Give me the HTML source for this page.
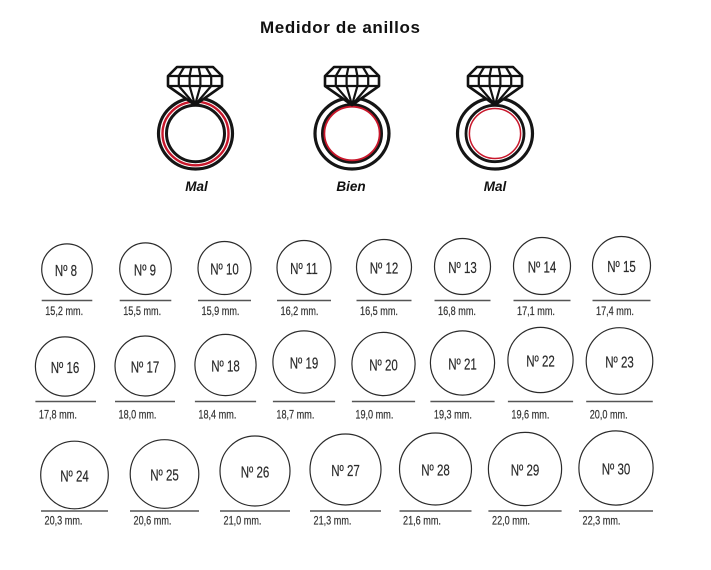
<!DOCTYPE html>
<html>
<head>
<meta charset="utf-8">
<style>
html,body{margin:0;padding:0;background:#fff;}
svg{display:block;}
.t{font-family:"Liberation Sans",sans-serif;}
</style>
</head>
<body>
<svg width="711" height="570" viewBox="0 0 711 570" xmlns="http://www.w3.org/2000/svg">
<rect width="711" height="570" fill="#fff"/>

<text class="t" x="340" y="33" font-size="17" font-weight="bold" text-anchor="middle" fill="#111" textLength="160" lengthAdjust="spacing">Medidor de anillos</text>

<defs>
  <g id="dia">
    <path d="M-18,67 L18,67 L27,76 L27,86 L0,105 L-27,86 L-27,76 Z" fill="#fff" stroke="#111" stroke-width="2.6" stroke-linejoin="round"/>
    <path d="M-27,76 L27,76 M-27,86 L27,86 M-10.8,67 L-16.2,76 L-16.2,86 M-3.6,67 L-5.4,76 L-5.4,86 M3.6,67 L5.4,76 L5.4,86 M10.8,67 L16.2,76 L16.2,86 M-16.2,86 L0,105 M-5.4,86 L0,105 M5.4,86 L0,105 M16.2,86 L0,105" fill="none" stroke="#111" stroke-width="2.2" stroke-linejoin="round"/>
  </g>
</defs>

<!-- Left ring (Mal) -->
<g>
  <ellipse cx="195.5" cy="133.5" rx="37" ry="35.5" fill="none" stroke="#151515" stroke-width="3.2"/>
  <ellipse cx="195.5" cy="133.5" rx="33" ry="31.8" fill="none" stroke="#c8172b" stroke-width="2.4"/>
  <ellipse cx="195.5" cy="133.5" rx="29" ry="28.2" fill="none" stroke="#151515" stroke-width="3"/>
  <use href="#dia" transform="translate(195,0)"/>
</g>
<!-- Middle ring (Bien) -->
<g>
  <ellipse cx="352" cy="133.5" rx="37" ry="35.5" fill="none" stroke="#151515" stroke-width="3.2"/>
  <ellipse cx="352" cy="133.5" rx="29.5" ry="28.7" fill="none" stroke="#151515" stroke-width="3"/>
  <ellipse cx="352" cy="133.5" rx="27.6" ry="26.8" fill="none" stroke="#c8172b" stroke-width="1.8"/>
  <use href="#dia" transform="translate(352,0)"/>
</g>
<!-- Right ring (Mal) -->
<g>
  <ellipse cx="495" cy="133.5" rx="37.5" ry="35.5" fill="none" stroke="#151515" stroke-width="3.2"/>
  <ellipse cx="495" cy="133.5" rx="29" ry="28.2" fill="none" stroke="#151515" stroke-width="2.8"/>
  <ellipse cx="495" cy="133.5" rx="25.6" ry="25" fill="none" stroke="#c8172b" stroke-width="1.5"/>
  <use href="#dia" transform="translate(495,0)"/>
</g>

<text class="t" x="196.5" y="191" font-size="13.5" font-weight="bold" font-style="italic" text-anchor="middle" fill="#111">Mal</text>
<text class="t" x="351" y="191" font-size="13.5" font-weight="bold" font-style="italic" text-anchor="middle" fill="#111">Bien</text>
<text class="t" x="495" y="191" font-size="13.5" font-weight="bold" font-style="italic" text-anchor="middle" fill="#111">Mal</text>

<g fill="none" stroke="#2b2b2b" stroke-width="1.2">
<!-- Row 1 -->
<circle cx="67" cy="269.2" r="25.3"/>
<circle cx="145.5" cy="268.7" r="25.8"/>
<circle cx="224.5" cy="268" r="26.5"/>
<circle cx="304" cy="267.5" r="27"/>
<circle cx="384" cy="267" r="27.5"/>
<circle cx="462.5" cy="266.5" r="28"/>
<circle cx="542" cy="266" r="28.5"/>
<circle cx="621.5" cy="265.5" r="29"/>
<!-- Row 2 -->
<circle cx="65" cy="366.5" r="29.6"/>
<circle cx="145" cy="366" r="30"/>
<circle cx="225.5" cy="365" r="30.6"/>
<circle cx="304" cy="362" r="31.1"/>
<circle cx="383.5" cy="364" r="31.6"/>
<circle cx="462.5" cy="363" r="32.1"/>
<circle cx="540.5" cy="360" r="32.6"/>
<circle cx="619.5" cy="361" r="33.3"/>
<!-- Row 3 -->
<circle cx="74.5" cy="475" r="33.8"/>
<circle cx="164.5" cy="474" r="34.3"/>
<circle cx="255" cy="471" r="35"/>
<circle cx="345.5" cy="469.5" r="35.5"/>
<circle cx="435.5" cy="469" r="36"/>
<circle cx="525" cy="469" r="36.6"/>
<circle cx="616" cy="468" r="37.1"/>
</g>

<g stroke="#555" stroke-width="1.5">
<line x1="41.7" y1="300.5" x2="92.3" y2="300.5"/>
<line x1="119.7" y1="300.5" x2="171.3" y2="300.5"/>
<line x1="198" y1="300.5" x2="251" y2="300.5"/>
<line x1="277" y1="300.5" x2="331" y2="300.5"/>
<line x1="356.5" y1="300.5" x2="411.5" y2="300.5"/>
<line x1="434.5" y1="300.5" x2="490.5" y2="300.5"/>
<line x1="513.5" y1="300.5" x2="570.5" y2="300.5"/>
<line x1="592.5" y1="300.5" x2="650.5" y2="300.5"/>

<line x1="35.4" y1="401.5" x2="96" y2="401.5"/>
<line x1="115" y1="401.5" x2="175" y2="401.5"/>
<line x1="194.9" y1="401.5" x2="256.1" y2="401.5"/>
<line x1="272.9" y1="401.5" x2="335.1" y2="401.5"/>
<line x1="351.9" y1="401.5" x2="415.1" y2="401.5"/>
<line x1="430.4" y1="401.5" x2="494.6" y2="401.5"/>
<line x1="507.9" y1="401.5" x2="573.1" y2="401.5"/>
<line x1="586.2" y1="401.5" x2="652.8" y2="401.5"/>

<line x1="41" y1="511" x2="108" y2="511"/>
<line x1="130" y1="511" x2="199" y2="511"/>
<line x1="220" y1="511" x2="290" y2="511"/>
<line x1="310" y1="511" x2="381" y2="511"/>
<line x1="399.5" y1="511" x2="471.5" y2="511"/>
<line x1="488.4" y1="511" x2="561.6" y2="511"/>
<line x1="579" y1="511" x2="653" y2="511"/>
</g>

<g font-family="Liberation Sans, sans-serif" font-size="16" fill="#2a2a2a" stroke="#2a2a2a" stroke-width="0.2" text-anchor="middle">
<text transform="translate(66,275.8) scale(0.72,1)">Nº 8</text>
<text transform="translate(145,275.3) scale(0.72,1)">Nº 9</text>
<text transform="translate(224.5,274.6) scale(0.72,1)">Nº 10</text>
<text transform="translate(304,274.1) scale(0.72,1)">Nº 11</text>
<text transform="translate(384,273.6) scale(0.72,1)">Nº 12</text>
<text transform="translate(462.5,273.1) scale(0.72,1)">Nº 13</text>
<text transform="translate(542,272.6) scale(0.72,1)">Nº 14</text>
<text transform="translate(621.5,272.1) scale(0.72,1)">Nº 15</text>

<text transform="translate(65,373.1) scale(0.72,1)">Nº 16</text>
<text transform="translate(145,372.6) scale(0.72,1)">Nº 17</text>
<text transform="translate(225.5,371.6) scale(0.72,1)">Nº 18</text>
<text transform="translate(304,368.6) scale(0.72,1)">Nº 19</text>
<text transform="translate(383.5,370.6) scale(0.72,1)">Nº 20</text>
<text transform="translate(462.5,369.6) scale(0.72,1)">Nº 21</text>
<text transform="translate(540.5,366.6) scale(0.72,1)">Nº 22</text>
<text transform="translate(619.5,367.6) scale(0.72,1)">Nº 23</text>

<text transform="translate(74.5,481.6) scale(0.72,1)">Nº 24</text>
<text transform="translate(164.5,480.6) scale(0.72,1)">Nº 25</text>
<text transform="translate(255,477.6) scale(0.72,1)">Nº 26</text>
<text transform="translate(345.5,476.1) scale(0.72,1)">Nº 27</text>
<text transform="translate(435.5,475.6) scale(0.72,1)">Nº 28</text>
<text transform="translate(525,475.6) scale(0.72,1)">Nº 29</text>
<text transform="translate(616,474.6) scale(0.72,1)">Nº 30</text>
</g>

<g font-family="Liberation Sans, sans-serif" font-size="12" fill="#333" stroke="#333" stroke-width="0.2">
<text transform="translate(45.2,315) scale(0.76,1)">15,2 mm.</text>
<text transform="translate(123.2,315) scale(0.76,1)">15,5 mm.</text>
<text transform="translate(201.5,315) scale(0.76,1)">15,9 mm.</text>
<text transform="translate(280.5,315) scale(0.76,1)">16,2 mm.</text>
<text transform="translate(360,315) scale(0.76,1)">16,5 mm.</text>
<text transform="translate(438,315) scale(0.76,1)">16,8 mm.</text>
<text transform="translate(517,315) scale(0.76,1)">17,1 mm.</text>
<text transform="translate(596,315) scale(0.76,1)">17,4 mm.</text>

<text transform="translate(38.9,418.5) scale(0.76,1)">17,8 mm.</text>
<text transform="translate(118.5,418.5) scale(0.76,1)">18,0 mm.</text>
<text transform="translate(198.4,418.5) scale(0.76,1)">18,4 mm.</text>
<text transform="translate(276.4,418.5) scale(0.76,1)">18,7 mm.</text>
<text transform="translate(355.4,418.5) scale(0.76,1)">19,0 mm.</text>
<text transform="translate(433.9,418.5) scale(0.76,1)">19,3 mm.</text>
<text transform="translate(511.4,418.5) scale(0.76,1)">19,6 mm.</text>
<text transform="translate(589.7,418.5) scale(0.76,1)">20,0 mm.</text>

<text transform="translate(44.5,524.5) scale(0.76,1)">20,3 mm.</text>
<text transform="translate(133.5,524.5) scale(0.76,1)">20,6 mm.</text>
<text transform="translate(223.5,524.5) scale(0.76,1)">21,0 mm.</text>
<text transform="translate(313.5,524.5) scale(0.76,1)">21,3 mm.</text>
<text transform="translate(403,524.5) scale(0.76,1)">21,6 mm.</text>
<text transform="translate(492,524.5) scale(0.76,1)">22,0 mm.</text>
<text transform="translate(582.5,524.5) scale(0.76,1)">22,3 mm.</text>
</g>
</svg>
</body>
</html>
